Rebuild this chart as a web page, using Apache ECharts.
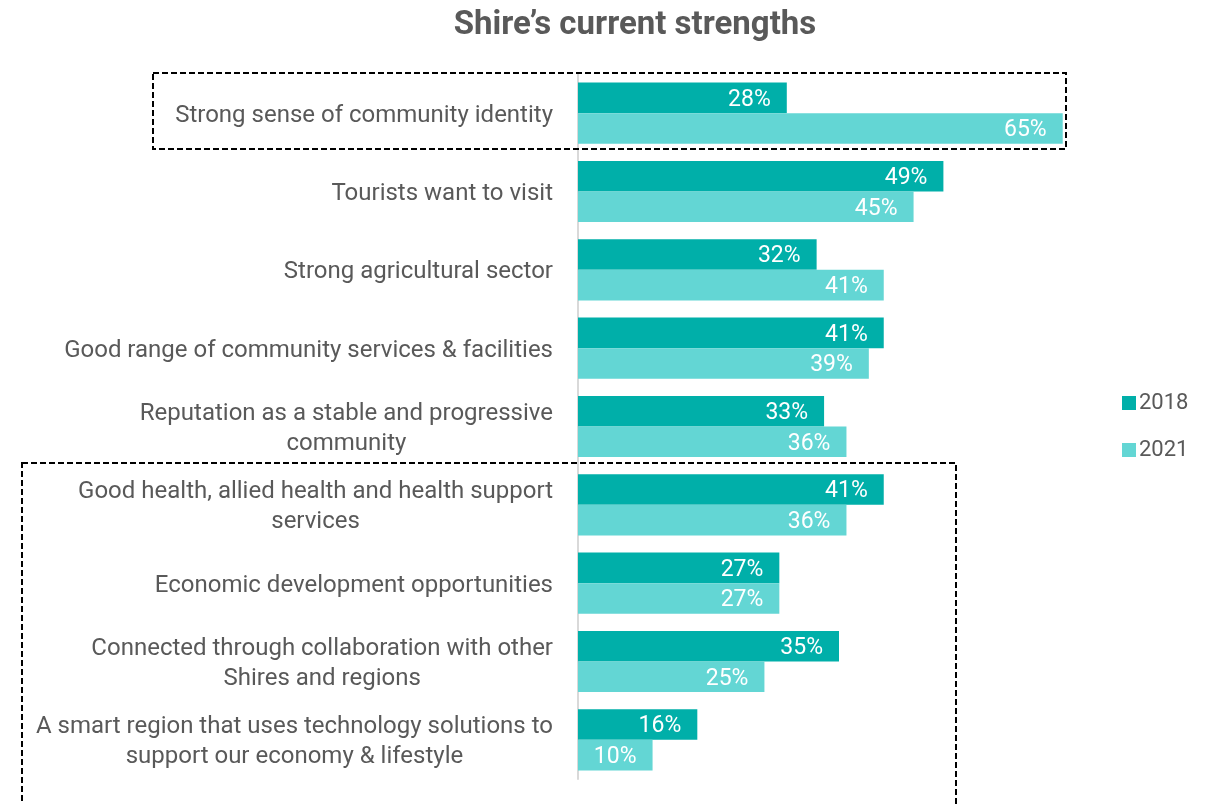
<!DOCTYPE html>
<html>
<head>
<meta charset="utf-8">
<style>
  html, body { margin: 0; padding: 0; background: #ffffff; }
  #chart { width: 1217px; height: 804px; }
</style>
<script src="https://cdn.jsdelivr.net/npm/echarts@6/dist/echarts.min.js"></script>
</head>
<body>
<div id="chart"></div>
<script>
// Survey results: share of respondents naming each strength
const categories = [
  'Strong sense of community identity',
  'Tourists want to visit',
  'Strong agricultural sector',
  'Good range of community services & facilities',
  'Reputation as a stable and progressive\ncommunity',
  'Good health, allied health and health support\nservices',
  'Economic development opportunities',
  'Connected through collaboration with other\nShires and regions',
  'A smart region that uses technology solutions to\nsupport our economy & lifestyle'
];
const years = ['2018', '2021'];
const values2018 = [28, 49, 32, 41, 33, 41, 27, 35, 16];
const values2021 = [65, 45, 41, 39, 36, 36, 27, 25, 10];

const FONT = 'Roboto';
const TEXT_GREY = '#595959';
const COLORS = ['#00AFA9', '#63D6D4'];

const chart = echarts.init(document.getElementById('chart'));

function barSeries(name, data, color) {
  return {
    name: name,
    type: 'bar',
    data: data,
    barGap: '0%',
    barCategoryGap: '22%',
    itemStyle: { color: color },
    label: {
      show: true,
      position: 'insideRight',
      color: '#ffffff',
      fontFamily: FONT,
      fontSize: 23,
      distance: 16,
      offset: [0, 2],
      formatter: p => p.value + '%'
    }
  };
}

chart.setOption({
  animation: false,
  title: {
    text: 'Shire\u2019s current strengths',
    left: 630,
    top: 4,
    textAlign: 'center',
    textStyle: { fontFamily: FONT, fontWeight: 'bold', fontSize: 33, color: TEXT_GREY }
  },
  legend: {
    orient: 'vertical',
    left: 1117,
    top: 387,
    itemWidth: 14,
    itemHeight: 14,
    itemGap: 25,
    icon: 'rect',
    data: years,
    textStyle: { fontFamily: FONT, fontSize: 22, color: TEXT_GREY, padding: [0, 0, 0, -2] }
  },
  grid: { left: 578, top: 74, width: 522, bottom: 25, containLabel: false },
  xAxis: {
    type: 'value',
    min: 0,
    max: 70,
    show: false
  },
  yAxis: {
    type: 'category',
    inverse: true,
    data: categories,
    axisLine: { show: true, lineStyle: { color: '#D9D9D9', width: 2 } },
    axisTick: { show: false },
    axisLabel: {
      margin: 25,
      align: 'right',
      fontFamily: FONT,
      fontSize: 24,
      color: TEXT_GREY,
      lineHeight: 30,
      padding: [5, 0, 0, 0],
      formatter: v => v.split('\n').map(l => '{c|' + l + '}').join('\n'),
      rich: {
        c: { align: 'center', fontFamily: FONT, fontSize: 24, color: TEXT_GREY, lineHeight: 30 }
      }
    }
  },
  series: [
    barSeries(years[0], values2018, COLORS[0]),
    barSeries(years[1], values2021, COLORS[1])
  ],
  graphic: [
    {
      type: 'rect',
      shape: { x: 153, y: 73, width: 913, height: 76 },
      style: { fill: 'none', stroke: '#000000', lineWidth: 2, lineDash: [6, 3] },
      z: 10
    },
    {
      type: 'rect',
      shape: { x: 22, y: 463, width: 934, height: 360 },
      style: { fill: 'none', stroke: '#000000', lineWidth: 2, lineDash: [6, 3] },
      z: 10
    }
  ]
});
</script>
</body>
</html>
